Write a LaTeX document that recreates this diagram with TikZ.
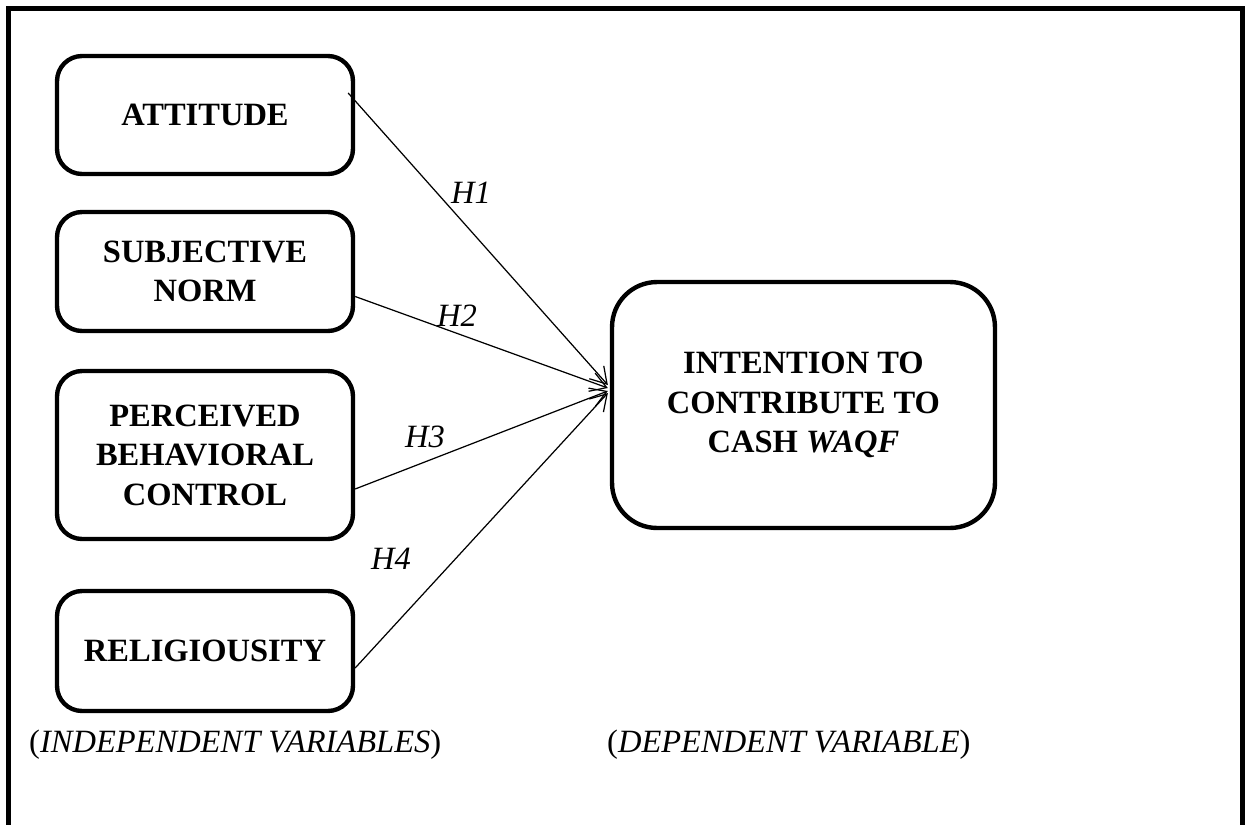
\documentclass[tikz,border=0pt]{standalone}
\usepackage{fontspec}
\setmainfont{Liberation Serif}
\usetikzlibrary{arrows.meta}
\tikzset{
  varbox/.style={draw, line width=2.5pt, rounded corners=0.5cm, align=center,
    font=\bfseries\fontsize{18.5}{22.5}\selectfont, inner sep=0pt},
  hyp/.style={-{Straight Barb[length=9pt,width=11pt]}, line width=0.7pt},
  hlabel/.style={font=\itshape\fontsize{18.5}{22}\selectfont},
  caption/.style={font=\fontsize{18.5}{22}\selectfont, anchor=west},
}
\begin{document}
\begin{tikzpicture}[x=0.02cm,y=-0.02cm]
\useasboundingbox (0,0) rectangle (1245,825);
\draw[line width=2.8pt] (8.5,830) -- (8.5,8.5) -- (1242.5,8.5) -- (1242.5,830);
% independent variables
\node[varbox, minimum width=5.92cm, minimum height=2.36cm] (att) at (205,115) {ATTITUDE};
\node[varbox, minimum width=5.92cm, minimum height=2.38cm] (sn) at (205,271.5) {SUBJECTIVE\\NORM};
\node[varbox, minimum width=5.92cm, minimum height=3.36cm] (pbc) at (205,455) {PERCEIVED\\BEHAVIORAL\\CONTROL};
\node[varbox, minimum width=5.92cm, minimum height=2.4cm] (rel) at (205,651) {RELIGIOUSITY};
% dependent variable
\node[varbox, rounded corners=0.9cm, minimum width=7.66cm, minimum height=4.92cm] (int) at (803.5,405)
  {INTENTION TO\\CONTRIBUTE TO\\CASH \textit{WAQF}};
% hypotheses
\draw[hyp] ([xshift=-0.14cm,yshift=0.44cm]att.east) -- ([xshift=-0.04cm,yshift=0.4cm]int.west);
\draw[hyp] ([yshift=-0.5cm]sn.east) -- ([xshift=-0.04cm,yshift=0.34cm]int.west);
\draw[hyp] ([yshift=-0.68cm]pbc.east) -- ([xshift=-0.04cm,yshift=0.28cm]int.west);
\draw[hyp] ([yshift=-0.34cm]rel.east) -- ([xshift=-0.04cm,yshift=0.24cm]int.west);
\node[hlabel] (h1) at (471,193) {H1};
\node[hlabel] (h2) at (457,316) {H2};
\node[hlabel] (h3) at (425,437) {H3};
\node[hlabel] (h4) at (391,559) {H4};
% captions
\node[caption] (indep) at (23,745) {(\textit{INDEPENDENT VARIABLES})};
\node[caption] (dep) at (601,745) {(\textit{DEPENDENT VARIABLE})};
\end{tikzpicture}
\end{document}
